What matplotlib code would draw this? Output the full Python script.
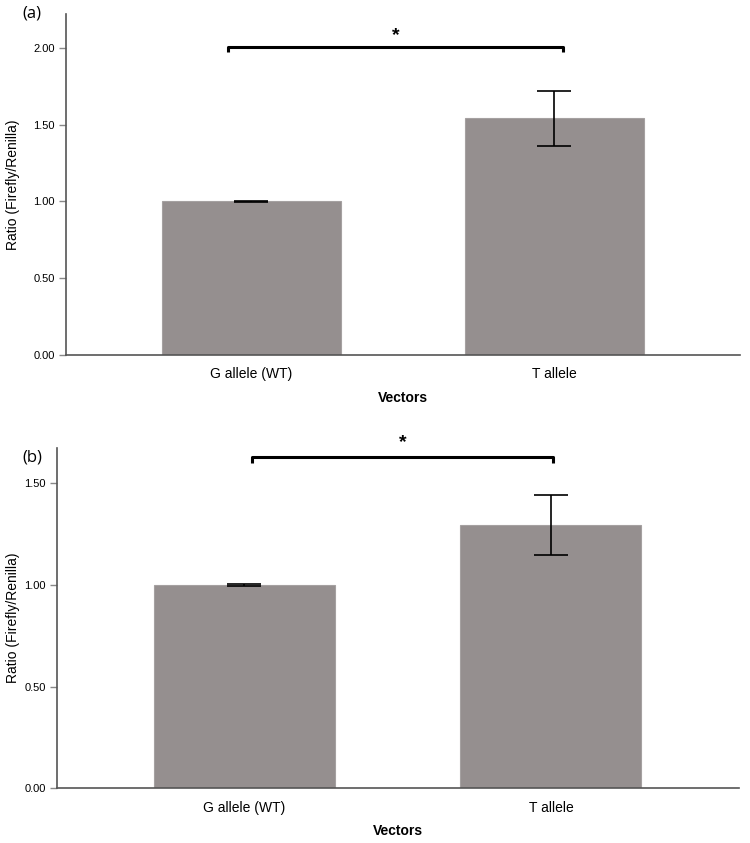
import matplotlib
matplotlib.use("Agg")
import matplotlib.pyplot as plt

plt.rcParams["font.family"] = ["Liberation Sans", "DejaVu Sans"]

vectors = ["G allele (WT)", "T allele"]

# panel (a)
ratio_a = [1.00, 1.54]
err_a = [0.004, 0.18]
ticks_a = [0.0, 0.5, 1.0, 1.5, 2.0]

# panel (b)
ratio_b = [1.00, 1.295]
err_b = [0.003, 0.147]
ticks_b = [0.0, 0.5, 1.0, 1.5]

bar_col = "#958f8f"
spine_col = "#555555"

fig = plt.figure(figsize=(7.5, 8.43), dpi=100)


def draw_panel(ax, vals, errs, ticks, ytop, brk_y, brk_drop, star_y, brk_x, ylab_x):
    x = range(len(vectors))
    ax.bar(x, vals, width=0.59, color=bar_col, edgecolor="#a5a1a1", linewidth=0.8, zorder=2)
    ax.errorbar(x, vals, yerr=errs, fmt="none", ecolor="black", elinewidth=1.2,
                capsize=12, capthick=1.2, zorder=3)
    ax.set_xlim(-0.61, 1.612)
    ax.set_ylim(0, ytop)
    ax.set_yticks(ticks)
    ax.set_yticklabels([f"{t:.2f}" for t in ticks], fontsize=8)
    ax.set_xticks(list(x))
    ax.set_xticklabels(vectors, fontsize=10)
    ax.tick_params(axis="x", length=0, pad=9)
    ax.tick_params(axis="y", length=5, color="#888888", width=1, pad=3)
    for s in ["top", "right"]:
        ax.spines[s].set_visible(False)
    for s in ["left", "bottom"]:
        ax.spines[s].set_color(spine_col)
        ax.spines[s].set_linewidth(1.2)
    ax.set_xlabel("Vectors", fontsize=10, fontweight="bold", labelpad=7)
    ax.set_ylabel("Ratio (Firefly/Renilla)", fontsize=10)
    ax.yaxis.set_label_coords(ylab_x, 0.5)
    # significance bracket
    x0, x1 = brk_x
    ax.plot([x0, x0, x1, x1], [brk_y - brk_drop, brk_y, brk_y, brk_y - brk_drop],
            color="black", lw=2.2, clip_on=False, solid_capstyle="butt", zorder=4)
    ax.text((x0 + x1) / 2, star_y, "*", ha="center", va="center", fontsize=14,
            fontweight="bold", clip_on=False)


ax1 = fig.add_axes([0.088, 0.579, 0.8987, 0.4045])
draw_panel(ax1, ratio_a, err_a, ticks_a, 2.22, 2.007, 0.033, 2.08, (-0.076, 1.03), -0.068)

ax2 = fig.add_axes([0.076, 0.0652, 0.909, 0.4034])
draw_panel(ax2, ratio_b, err_b, ticks_b, 1.675, 1.63, 0.03, 1.70, (0.024, 1.008), -0.055)

fig.text(22 / 750, 1 - 14 / 843, "(a)", fontsize=12, ha="left", va="center",
         family=["Open Sans", "DejaVu Sans"])
fig.text(22 / 750, 1 - 458 / 843, "(b)", fontsize=12, ha="left", va="center",
         family=["Open Sans", "DejaVu Sans"])

fig.savefig("out.png", dpi=100)
